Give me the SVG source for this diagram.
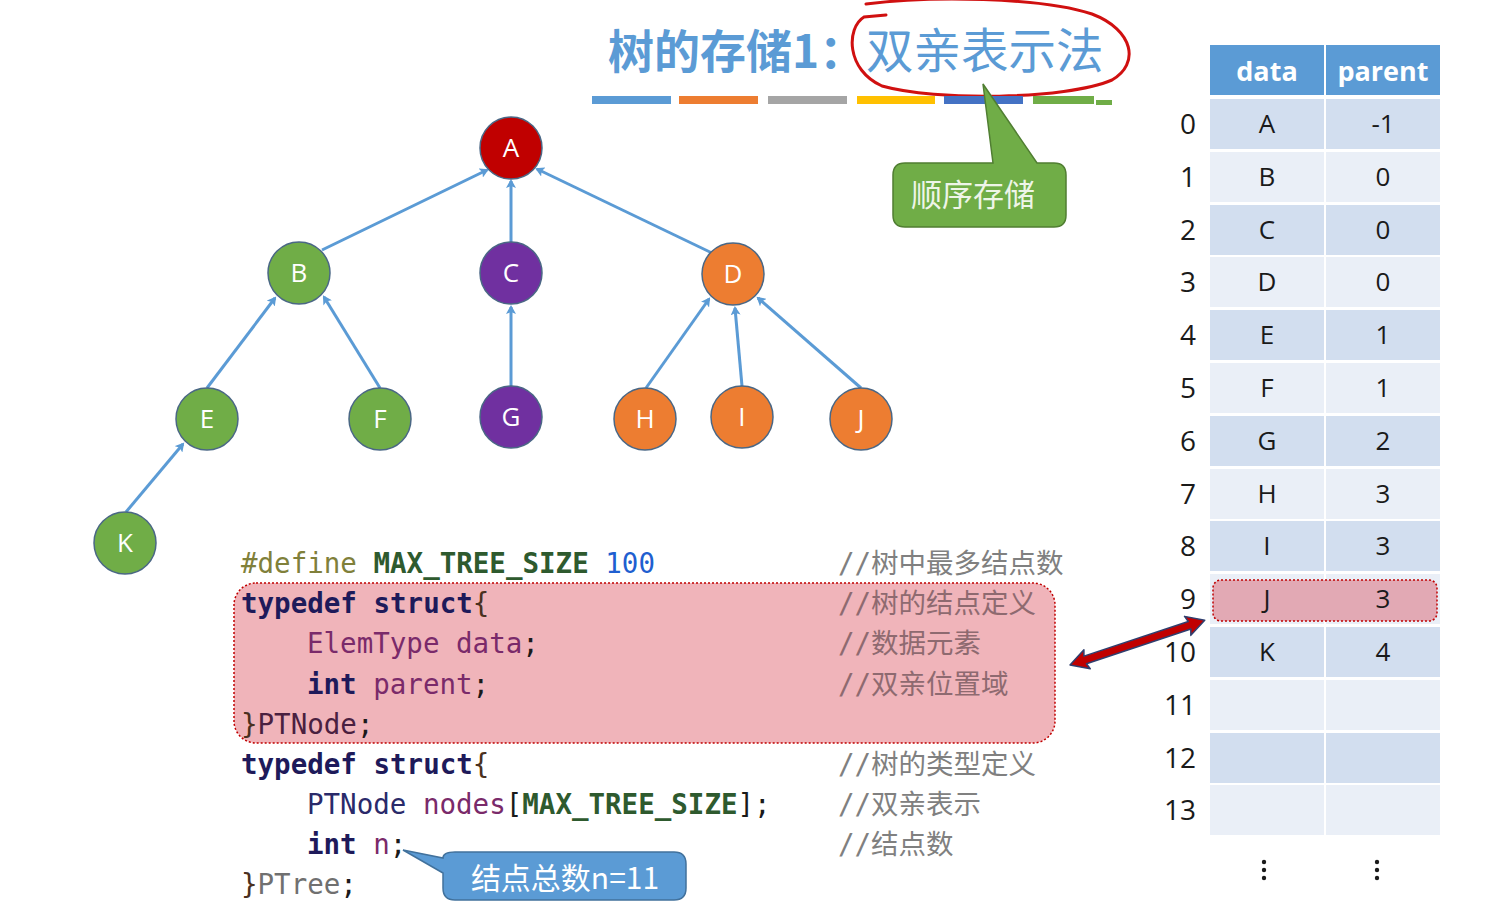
<svg xmlns="http://www.w3.org/2000/svg" width="1486" height="901" viewBox="0 0 1486 901">
<defs>
<marker id="ah" markerWidth="10" markerHeight="10" refX="7" refY="5" orient="auto" markerUnits="userSpaceOnUse">
<path d="M0,0 L9,5 L0,10 L2,5 Z" fill="#5B9BD5"/>
</marker>
</defs>
<style>
.edge{stroke:#5B9BD5;stroke-width:3;fill:none;marker-end:url(#ah)}
.nd{stroke:#4A6785;stroke-width:1.5}
.nt{font-family:"Open Sans","Noto Sans",sans-serif;font-size:26px;fill:#FFFFFF;text-anchor:middle}
.code{font-family:"DejaVu Sans Mono","Noto Sans CJK SC",monospace;font-size:27.5px}
.kw{fill:#1E1A5A;font-weight:bold}
.pp{fill:#80803A}
.mac{fill:#2E5A2E;font-weight:bold}
.num{fill:#1F5FD0}
.var{fill:#7A2A6A}
.br{fill:#4A3020}
.typ{fill:#2A2A6A}
.cm{fill:#808080}
.cmp{fill:#8E6A70}
.th{font-family:"Open Sans","Noto Sans",sans-serif;font-size:27px;font-weight:bold;fill:#FFFFFF;text-anchor:middle}
.td{font-family:"Open Sans","Noto Sans",sans-serif;font-size:26px;fill:#1A1A1A;text-anchor:middle}
.ix{font-family:"Open Sans","Noto Sans",sans-serif;font-size:28px;fill:#1A1A1A;text-anchor:end}
.re{fill:#D2DEEF}
.ro{fill:#EAEFF7}
.cjk{font-family:"Noto Sans CJK SC",sans-serif}
</style>
<rect width="1486" height="901" fill="#FFFFFF"/>

<!-- title -->
<g id="title">
<text x="608" y="68" class="cjk" font-size="46" fill="#5B9BD5" font-weight="bold">树的存储1：</text>
<text x="866" y="68" class="cjk" font-size="47.5" fill="#5B9BD5">双亲表示法</text>
<path d="M886 15 L864 17 C846 28 846 70 882 86 C935 101 1065 100 1112 80 C1140 64 1134 30 1092 14 C1040 -3 930 -4 866 4" fill="none" stroke="#D01010" stroke-width="3" stroke-linecap="round"/>
<g>
<rect x="592" y="96" width="79" height="8" fill="#5B9BD5"/>
<rect x="679" y="96" width="79" height="8" fill="#ED7D31"/>
<rect x="768" y="96" width="79" height="8" fill="#A5A5A5"/>
<rect x="857" y="96" width="78" height="8" fill="#FFC000"/>
<rect x="944" y="96" width="79" height="8" fill="#4472C4"/>
<rect x="1033" y="96" width="61" height="8" fill="#70AD47"/>
<rect x="1096" y="100" width="16" height="5" fill="#70AD47"/>
</g>
</g>

<!-- callout green -->
<g id="callout-seq">
<path d="M905 163 L993 163 L983 84 L1037 163 L1054 163 Q1066 163 1066 175 L1066 215 Q1066 227 1054 227 L905 227 Q893 227 893 215 L893 175 Q893 163 905 163 Z" fill="#70AD47" stroke="#507E32" stroke-width="1.5"/>
<text x="973" y="206" class="cjk" font-size="31" fill="#EEF5E8" text-anchor="middle">顺序存储</text>
</g>

<!-- connectors -->
<g id="connectors">
<line class="edge" x1="322" y1="250" x2="487" y2="170"/>
<line class="edge" x1="511" y1="242" x2="511" y2="181"/>
<line class="edge" x1="712" y1="253" x2="537" y2="169"/>
<line class="edge" x1="207" y1="388" x2="275" y2="298"/>
<line class="edge" x1="380" y1="388" x2="324" y2="297"/>
<line class="edge" x1="511" y1="386" x2="511" y2="307"/>
<line class="edge" x1="646" y1="388" x2="709" y2="299"/>
<line class="edge" x1="742" y1="386" x2="735" y2="308"/>
<line class="edge" x1="861" y1="388" x2="758" y2="298"/>
<line class="edge" x1="126" y1="512" x2="183" y2="444"/>
</g>

<!-- nodes -->
<g id="node-A"><circle class="nd" cx="511" cy="148" r="31" fill="#C00000"/><text class="nt" x="511" y="157">A</text></g>
<g id="node-B"><circle class="nd" cx="299" cy="273" r="31" fill="#70AD47"/><text class="nt" x="299" y="282">B</text></g>
<g id="node-C"><circle class="nd" cx="511" cy="273" r="31" fill="#7030A0"/><text class="nt" x="511" y="282">C</text></g>
<g id="node-D"><circle class="nd" cx="733" cy="274" r="31" fill="#ED7D31"/><text class="nt" x="733" y="283">D</text></g>
<g id="node-E"><circle class="nd" cx="207" cy="419" r="31" fill="#70AD47"/><text class="nt" x="207" y="428">E</text></g>
<g id="node-F"><circle class="nd" cx="380" cy="419" r="31" fill="#70AD47"/><text class="nt" x="380" y="428">F</text></g>
<g id="node-G"><circle class="nd" cx="511" cy="417" r="31" fill="#7030A0"/><text class="nt" x="511" y="426">G</text></g>
<g id="node-H"><circle class="nd" cx="645" cy="419" r="31" fill="#ED7D31"/><text class="nt" x="645" y="428">H</text></g>
<g id="node-I"><circle class="nd" cx="742" cy="417" r="31" fill="#ED7D31"/><text class="nt" x="742" y="426">I</text></g>
<g id="node-J"><circle class="nd" cx="861" cy="419" r="31" fill="#ED7D31"/><text class="nt" x="861" y="428">J</text></g>
<g id="node-K"><circle class="nd" cx="125" cy="543" r="31" fill="#70AD47"/><text class="nt" x="125" y="552">K</text></g>

<!-- code -->
<g id="code">
<rect x="234" y="583" width="821" height="160" rx="22" fill="#F0B4BA" stroke="#C00000" stroke-width="1.5" stroke-dasharray="2 2"/>
<text class="code" x="241" y="573"><tspan class="pp">#define</tspan> <tspan class="mac">MAX_TREE_SIZE</tspan> <tspan class="num">100</tspan></text>
<text class="code cm" x="838" y="573">//树中最多结点数</text>
<text class="code" x="241" y="613"><tspan class="kw">typedef</tspan> <tspan class="kw">struct</tspan><tspan class="br">{</tspan></text>
<text class="code cmp" x="838" y="613">//树的结点定义</text>
<text class="code" x="307" y="653"><tspan class="var">ElemType</tspan> <tspan class="var">data</tspan><tspan fill="#1A1A1A">;</tspan></text>
<text class="code cmp" x="838" y="653">//数据元素</text>
<text class="code" x="307" y="694"><tspan class="kw">int</tspan> <tspan class="var">parent</tspan><tspan fill="#1A1A1A">;</tspan></text>
<text class="code cmp" x="838" y="694">//双亲位置域</text>
<text class="code" x="241" y="734"><tspan class="br">}</tspan><tspan fill="#4A2040">PTNode</tspan><tspan fill="#1A1A1A">;</tspan></text>
<text class="code" x="241" y="774"><tspan class="kw">typedef</tspan> <tspan class="kw">struct</tspan><tspan class="br">{</tspan></text>
<text class="code cm" x="838" y="774">//树的类型定义</text>
<text class="code" x="307" y="814"><tspan class="typ">PTNode</tspan> <tspan class="var">nodes</tspan><tspan fill="#1A1A1A">[</tspan><tspan class="mac">MAX_TREE_SIZE</tspan><tspan fill="#1A1A1A">];</tspan></text>
<text class="code cm" x="838" y="814">//双亲表示</text>
<text class="code" x="307" y="854"><tspan class="kw">int</tspan> <tspan class="var">n</tspan><tspan fill="#1A1A1A">;</tspan></text>
<text class="code cm" x="838" y="854">//结点数</text>
<text class="code" x="241" y="894"><tspan class="br">}</tspan><tspan fill="#707070">PTree</tspan><tspan fill="#1A1A1A">;</tspan></text>
</g>

<!-- callout blue -->
<g id="callout-n">
<path d="M455 852 L674 852 Q686 852 686 864 L686 888 Q686 900 674 900 L455 900 Q443 900 443 888 L443 873 L403 850 L443 858 Q443 852 455 852 Z" fill="#5B9BD5" stroke="#41719C" stroke-width="1.5"/>
<text x="565" y="889" class="cjk" font-size="30" fill="#FFFFFF" text-anchor="middle">结点总数n=11</text>
</g>

<!-- table -->
<g id="table">
<rect x="1210" y="45" width="114" height="50" fill="#5B9BD5"/>
<rect x="1326" y="45" width="114" height="50" fill="#5B9BD5"/>
<text class="th" x="1267" y="81">data</text>
<text class="th" x="1383" y="81">parent</text>

<rect class="re" x="1210" y="99" width="114" height="50"/><rect class="re" x="1326" y="99" width="114" height="50"/>
<rect class="ro" x="1210" y="152" width="114" height="50"/><rect class="ro" x="1326" y="152" width="114" height="50"/>
<rect class="re" x="1210" y="205" width="114" height="50"/><rect class="re" x="1326" y="205" width="114" height="50"/>
<rect class="ro" x="1210" y="257" width="114" height="50"/><rect class="ro" x="1326" y="257" width="114" height="50"/>
<rect class="re" x="1210" y="310" width="114" height="50"/><rect class="re" x="1326" y="310" width="114" height="50"/>
<rect class="ro" x="1210" y="363" width="114" height="50"/><rect class="ro" x="1326" y="363" width="114" height="50"/>
<rect class="re" x="1210" y="416" width="114" height="50"/><rect class="re" x="1326" y="416" width="114" height="50"/>
<rect class="ro" x="1210" y="469" width="114" height="50"/><rect class="ro" x="1326" y="469" width="114" height="50"/>
<rect class="re" x="1210" y="521" width="114" height="50"/><rect class="re" x="1326" y="521" width="114" height="50"/>
<rect class="ro" x="1210" y="574" width="114" height="50"/><rect class="ro" x="1326" y="574" width="114" height="50"/>
<rect class="re" x="1210" y="627" width="114" height="50"/><rect class="re" x="1326" y="627" width="114" height="50"/>
<rect class="ro" x="1210" y="680" width="114" height="50"/><rect class="ro" x="1326" y="680" width="114" height="50"/>
<rect class="re" x="1210" y="733" width="114" height="50"/><rect class="re" x="1326" y="733" width="114" height="50"/>
<rect class="ro" x="1210" y="785" width="114" height="50"/><rect class="ro" x="1326" y="785" width="114" height="50"/>

<rect x="1213" y="580" width="224" height="41" rx="8" fill="#E2A9B4" stroke="#C00000" stroke-width="1.5" stroke-dasharray="2 2"/>

<text class="ix" x="1196" y="134">0</text>
<text class="ix" x="1196" y="187">1</text>
<text class="ix" x="1196" y="240">2</text>
<text class="ix" x="1196" y="292">3</text>
<text class="ix" x="1196" y="345">4</text>
<text class="ix" x="1196" y="398">5</text>
<text class="ix" x="1196" y="451">6</text>
<text class="ix" x="1196" y="504">7</text>
<text class="ix" x="1196" y="556">8</text>
<text class="ix" x="1196" y="609">9</text>
<text class="ix" x="1196" y="662">10</text>
<text class="ix" x="1196" y="715">11</text>
<text class="ix" x="1196" y="768">12</text>
<text class="ix" x="1196" y="820">13</text>

<text class="td" x="1267" y="133">A</text><text class="td" x="1383" y="133">-1</text>
<text class="td" x="1267" y="186">B</text><text class="td" x="1383" y="186">0</text>
<text class="td" x="1267" y="239">C</text><text class="td" x="1383" y="239">0</text>
<text class="td" x="1267" y="291">D</text><text class="td" x="1383" y="291">0</text>
<text class="td" x="1267" y="344">E</text><text class="td" x="1383" y="344">1</text>
<text class="td" x="1267" y="397">F</text><text class="td" x="1383" y="397">1</text>
<text class="td" x="1267" y="450">G</text><text class="td" x="1383" y="450">2</text>
<text class="td" x="1267" y="503">H</text><text class="td" x="1383" y="503">3</text>
<text class="td" x="1267" y="555">I</text><text class="td" x="1383" y="555">3</text>
<text class="td" x="1267" y="608">J</text><text class="td" x="1383" y="608">3</text>
<text class="td" x="1267" y="661">K</text><text class="td" x="1383" y="661">4</text>

<g fill="#1A1A1A">
<circle cx="1264" cy="862" r="2.2"/><circle cx="1264" cy="870" r="2.2"/><circle cx="1264" cy="878" r="2.2"/>
<circle cx="1377" cy="862" r="2.2"/><circle cx="1377" cy="870" r="2.2"/><circle cx="1377" cy="878" r="2.2"/>
</g>
</g>

<!-- red double arrow -->
<g id="link-arrow" transform="translate(1070,665) rotate(-18.4)">
<polygon points="0,0 18,-10 16,-4 126,-4 124,-10 142,0 124,10 126,4 16,4 18,10" fill="#C00000" stroke="#2F3F6F" stroke-width="1.5" stroke-linejoin="round"/>
</g>
</svg>
